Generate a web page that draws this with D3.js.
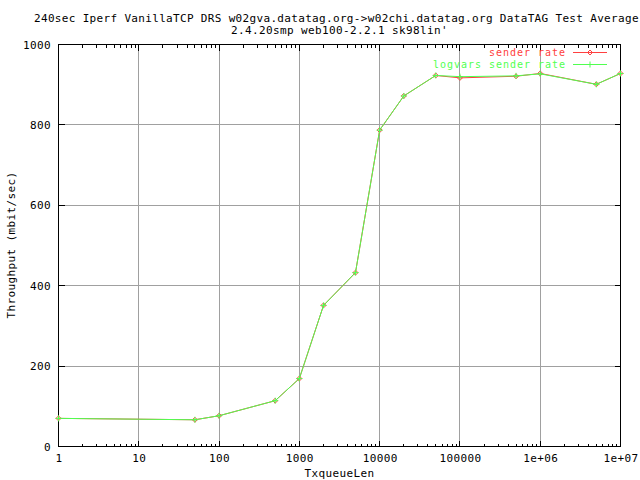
<!DOCTYPE html>
<html><head><meta charset="utf-8">
<script src="https://cdn.jsdelivr.net/npm/d3@7"></script>
<style>
html,body{margin:0;padding:0;background:#fff;}
text{font-family:"DejaVu Sans Mono",monospace;font-size:11px;letter-spacing:0.37px;fill:#000;}
</style></head>
<body>
<script>
const titleLines = ["240sec Iperf VanillaTCP DRS w02gva.datatag.org->w02chi.datatag.org DataTAG Test Average",
                    "2.4.20smp web100-2.2.1 sk98lin'"];
const xLabel = "TxqueueLen";
const yLabel = "Throughput (mbit/sec)";
const txqueuelen = [1, 50, 100, 500, 1000, 2000, 5000, 10000, 20000, 50000, 100000, 500000, 1000000, 5000000, 10000000];
const senderRate = [70, 66.5, 76.5, 114, 169, 351, 432.5, 787, 872, 923, 917, 921, 928, 901, 928];
const logvarsSenderRate = [70, 66.5, 76.5, 114, 169, 351, 432.5, 787, 872, 923, 920, 922, 927, 901, 928];
const seriesNames = ["sender rate", "logvars sender rate"];
const xTicks = [1, 10, 100, 1000, 10000, 100000, 1000000, 10000000];
const xTickLabels = ["1", "10", "100", "1000", "10000", "100000", "1e+06", "1e+07"];
const yTicks = [0, 200, 400, 600, 800, 1000];

const W = 640, H = 480;
const L = 58.5, R = 620.5, T = 44.5, B = 446.5;
const red = "#ff4040", green = "#50ff50", gridCol = "#a0a0a0";

const svg = d3.select("body").append("svg").attr("width", W).attr("height", H);
const x = d3.scaleLog().domain([1, 1e7]).range([L, R]);
const y = d3.scaleLinear().domain([0, 1000]).range([B, T]);
const px = v => Math.round(v - 0.5) + 0.5;

// grid
const g = svg.append("g").attr("shape-rendering", "crispEdges");
xTicks.slice(1, -1).forEach(t => {
  g.append("line").attr("x1", px(x(t))).attr("x2", px(x(t))).attr("y1", T).attr("y2", B).attr("stroke", gridCol);
});
yTicks.slice(1, -1).forEach(t => {
  g.append("line").attr("x1", L).attr("x2", R).attr("y1", px(y(t))).attr("y2", px(y(t))).attr("stroke", gridCol);
});

// ticks (major inward, mirrored)
const tk = svg.append("g").attr("shape-rendering", "crispEdges").attr("stroke", "#000");
yTicks.forEach(t => {
  const yy = px(y(t));
  tk.append("line").attr("x1", L).attr("x2", L + 6).attr("y1", yy).attr("y2", yy);
  tk.append("line").attr("x1", R - 6).attr("x2", R).attr("y1", yy).attr("y2", yy);
});
xTicks.forEach(t => {
  const xx = px(x(t));
  tk.append("line").attr("x1", xx).attr("x2", xx).attr("y1", B).attr("y2", B - 6);
  tk.append("line").attr("x1", xx).attr("x2", xx).attr("y1", T).attr("y2", T + 6);
});
xTicks.slice(0, -1).forEach(t => {
  for (let m = 2; m <= 9; m++) {
    const xx = px(x(t * m));
    tk.append("line").attr("x1", xx).attr("x2", xx).attr("y1", B).attr("y2", B - 3);
    tk.append("line").attr("x1", xx).attr("x2", xx).attr("y1", T).attr("y2", T + 3);
  }
});

// border
svg.append("rect").attr("x", L).attr("y", T).attr("width", R - L).attr("height", B - T)
  .attr("fill", "none").attr("stroke", "#000").attr("shape-rendering", "crispEdges");

// tick labels
yTicks.forEach(t => {
  svg.append("text").attr("x", 51).attr("y", y(t) + 4).attr("text-anchor", "end").text(t);
});
xTicks.forEach((t, i) => {
  svg.append("text").attr("x", x(t) + 0.5).attr("y", 462).attr("text-anchor", "middle").text(xTickLabels[i]);
});

// titles
svg.append("text").attr("x", 34).attr("y", 22).style("letter-spacing", "0.33px").text(titleLines[0]);
svg.append("text").attr("x", 339.5).attr("y", 34).attr("text-anchor", "middle").text(titleLines[1]);
svg.append("text").attr("x", 339.5).attr("y", 477).attr("text-anchor", "middle").text(xLabel);
svg.append("text").attr("transform", "translate(15,245) rotate(-90)").attr("text-anchor", "middle").text(yLabel);

// series
const series = [
  {name: seriesNames[0], vals: senderRate, color: red, mark: "diamond"},
  {name: seriesNames[1], vals: logvarsSenderRate, color: green, mark: "plus"}
];
const line = d3.line().x(d => x(d[0])).y(d => y(d[1]));
function marker(sel, cx, cy, type, color) {
  if (type === "plus") {
    sel.append("path").attr("d", `M${cx - 3},${cy}H${cx + 3}M${cx},${cy - 3}V${cy + 3}`)
      .attr("stroke", color).attr("fill", "none");
  } else {
    sel.append("path").attr("d", `M${cx - 2.5},${cy}L${cx},${cy - 2.5}L${cx + 2.5},${cy}L${cx},${cy + 2.5}Z`)
      .attr("stroke", color).attr("fill", "none");
  }
}
series.forEach((s, si) => {
  const pts = txqueuelen.map((t, i) => [t, s.vals[i]]);
  const gs = svg.append("g");
  gs.append("path").attr("d", line(pts)).attr("fill", "none").attr("stroke", s.color).attr("stroke-width", 1);
  pts.forEach(p => marker(gs, x(p[0]), y(p[1]), s.mark, s.color));
  // legend
  const ly = 52.5 + si * 12;
  svg.append("text").attr("x", 566).attr("y", ly + 3.5).attr("text-anchor", "end")
    .style("font-size", "10px").style("letter-spacing", "0.98px").style("fill", s.color).text(s.name);
  gs.append("line").attr("x1", 573).attr("x2", 607).attr("y1", ly).attr("y2", ly).attr("stroke", s.color);
  marker(gs, 590, ly, s.mark, s.color);
});
</script>
</body></html>
